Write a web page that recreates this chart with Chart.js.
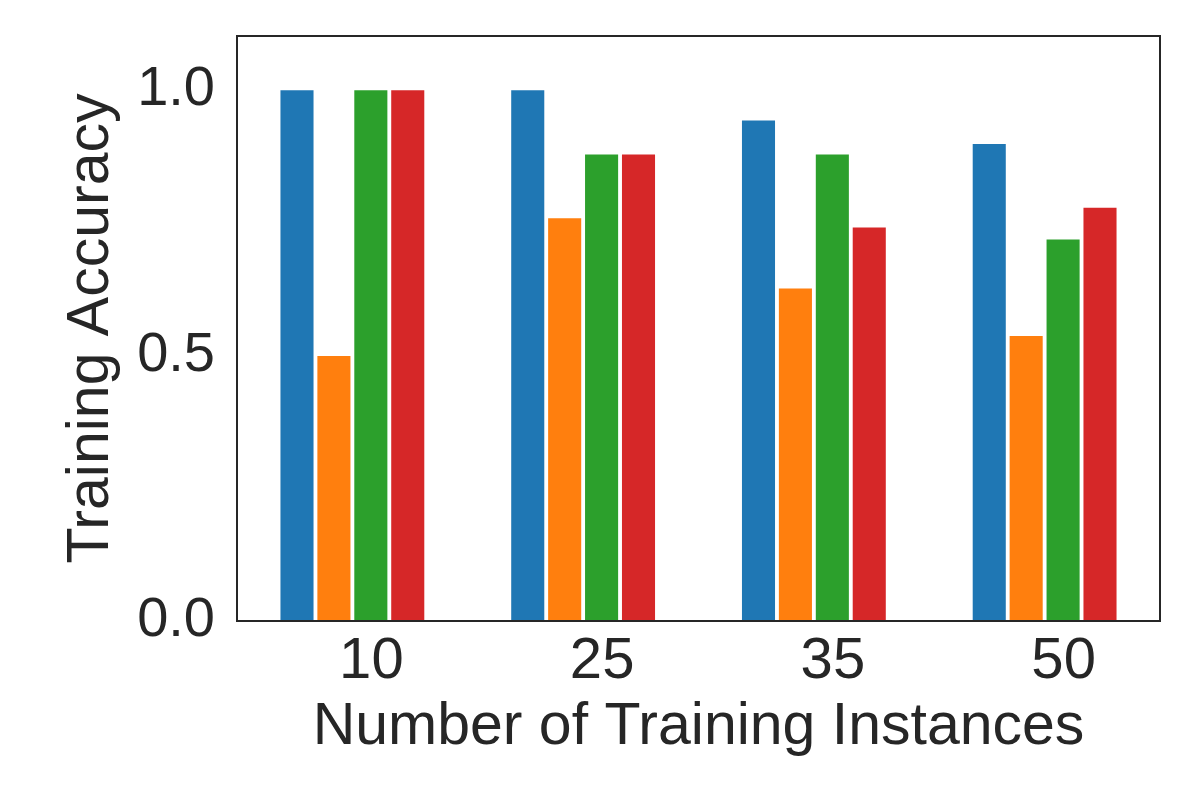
<!DOCTYPE html>
<html>
<head>
<meta charset="utf-8">
<script src="https://cdn.jsdelivr.net/npm/chart.js@4/dist/chart.umd.min.js"></script>
<style>
  html, body { margin: 0; padding: 0; background: #ffffff; }
  #wrap { width: 1196px; height: 798px; }
</style>
</head>
<body>
<div id="wrap"><canvas id="c" width="1196" height="798"></canvas></div>
<script>
const categories = ["10", "25", "35", "50"];
const seriesA = [1.0, 1.0, 0.943, 0.899];   // blue
const seriesB = [0.5, 0.759, 0.627, 0.538]; // orange
const seriesC = [1.0, 0.879, 0.879, 0.719]; // green
const seriesD = [1.0, 0.879, 0.742, 0.779]; // red
const yTicks = [0.0, 0.5, 1.0];
const xTitle = "Number of Training Instances";
const yTitle = "Training Accuracy";

const colors = ["#1f77b4", "#ff7f0e", "#2ca02c", "#d62728"];
const textColor = "#262626";
const fam = "'Liberation Sans', Arial, sans-serif";

const framePlugin = {
  id: 'frame',
  afterDatasetsDraw(chart) {
    const {ctx, chartArea: a} = chart;
    ctx.save();
    ctx.strokeStyle = textColor;
    ctx.lineWidth = 2;
    ctx.strokeRect(a.left, a.top, a.right - a.left, a.bottom - a.top);
    ctx.restore();
  }
};

const mk = (data, i) => ({
  data: data,
  backgroundColor: colors[i],
  borderColor: 'rgba(255,255,255,0.4)',
  borderWidth: 1,
  barPercentage: 0.95,
  categoryPercentage: 0.64
});

new Chart(document.getElementById('c'), {
  type: 'bar',
  data: {
    labels: categories,
    datasets: [mk(seriesA, 0), mk(seriesB, 1), mk(seriesC, 2), mk(seriesD, 3)]
  },
  options: {
    responsive: false,
    animation: false,
    devicePixelRatio: 1,
    layout: { padding: { left: 0, right: 36, top: 36, bottom: 0 } },
    plugins: { legend: { display: false }, tooltip: { enabled: false } },
    scales: {
      x: {
        grid: { display: false, drawTicks: false },
        border: { display: false },
        ticks: { color: textColor, font: { family: fam, size: 58 }, padding: 6, labelOffset: 19 },
        title: { display: true, text: xTitle, color: textColor,
                 font: { family: fam, size: 59 }, padding: { top: 0, bottom: 35 } },
        afterFit(scale) { scale.height = 177; scale.paddingLeft = 0; scale.paddingRight = 0; }
      },
      y: {
        min: 0, max: 1.1,
        afterBuildTicks(scale) { scale.ticks = yTicks.map(v => ({ value: v })); },
        grid: { display: false, drawTicks: false },
        border: { display: false },
        ticks: { color: textColor, font: { family: fam, size: 56 }, padding: 22,
                 callback: v => Number(v).toFixed(1) },
        title: { display: true, text: yTitle, color: textColor,
                 font: { family: fam, size: 59 }, padding: { top: 56, bottom: 0 } },
        afterFit(scale) { scale.width = 237; scale.paddingTop = 0; scale.paddingBottom = 0; }
      }
    }
  },
  plugins: [framePlugin]
});
</script>
</body>
</html>
